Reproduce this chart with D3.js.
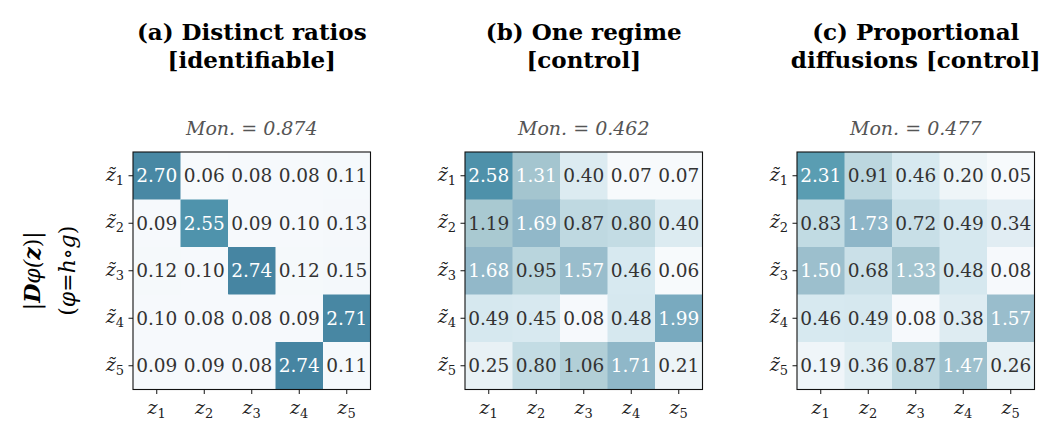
<!DOCTYPE html>
<html>
<head>
<meta charset="utf-8">
<script src="https://cdn.jsdelivr.net/npm/d3@7"></script>
<style>
  body { margin: 0; background: #fff; }
  text { font-family: "DejaVu Serif", serif; }
</style>
</head>
<body>
<div id="chart"></div>
<script>
// panel titles and scores
const titles = [
  ["(a) Distinct ratios", "[identifiable]"],
  ["(b) One regime", "[control]"],
  ["(c) Proportional", "diffusions [control]"]
];
const monScores = ["0.874", "0.462", "0.477"];
const cols = ["1", "2", "3", "4", "5"];
const rows = ["1", "2", "3", "4", "5"];

const matA = [
  [2.70, 0.06, 0.08, 0.08, 0.11],
  [0.09, 2.55, 0.09, 0.10, 0.13],
  [0.12, 0.10, 2.74, 0.12, 0.15],
  [0.10, 0.08, 0.08, 0.09, 2.71],
  [0.09, 0.09, 0.08, 2.74, 0.11]
];
const matB = [
  [2.58, 1.31, 0.40, 0.07, 0.07],
  [1.19, 1.69, 0.87, 0.80, 0.40],
  [1.68, 0.95, 1.57, 0.46, 0.06],
  [0.49, 0.45, 0.08, 0.48, 1.99],
  [0.25, 0.80, 1.06, 1.71, 0.21]
];
const matC = [
  [2.31, 0.91, 0.46, 0.20, 0.05],
  [0.83, 1.73, 0.72, 0.49, 0.34],
  [1.50, 0.68, 1.33, 0.48, 0.08],
  [0.46, 0.49, 0.08, 0.38, 1.57],
  [0.19, 0.36, 0.87, 1.47, 0.26]
];
const mats = [matA, matB, matC];

const W = 1064, H = 443;
const panelLeft = [133, 465, 797];
const plotTop = 152, size = 237.5;

const svg = d3.select("#chart").append("svg")
  .attr("width", W).attr("height", H);

const color = d3.scaleLinear()
  .domain([0, 0.15, 0.25, 0.45, 0.85, 1.2, 1.6, 2.0, 2.3, 2.55, 2.75])
  .range(["#f9fbfd", "#f4f8fb", "#e8f1f5", "#d8e9f0", "#c0dae2", "#a8c8d0", "#98bccc", "#78aabf", "#5a9db2", "#4f93ac", "#4684a1"])
  .clamp(true);

const x = d3.scaleBand().domain(cols).range([0, size]);
const y = d3.scaleBand().domain(rows).range([0, size]);

mats.forEach(function(m, p) {
  const cx = panelLeft[p] + size / 2;
  const t = svg.append("g");
  t.append("text").attr("x", cx).attr("y", 40)
    .attr("text-anchor", "middle").attr("font-weight", "bold").attr("font-size", 23)
    .text(titles[p][0]);
  t.append("text").attr("x", cx).attr("y", 68)
    .attr("text-anchor", "middle").attr("font-weight", "bold").attr("font-size", 23)
    .text(titles[p][1]);
  t.append("text").attr("x", cx).attr("y", 135)
    .attr("text-anchor", "middle").attr("font-style", "italic").attr("font-size", 19)
    .attr("fill", "#555").text("Mon. = " + monScores[p]);

  const g = svg.append("g").attr("transform", "translate(" + panelLeft[p] + "," + plotTop + ")");

  const cells = [];
  m.forEach(function(r, i) { r.forEach(function(v, j) { cells.push({i: i, j: j, v: v}); }); });

  g.selectAll("rect.cell").data(cells).enter().append("rect")
    .attr("class", "cell")
    .attr("x", d => x(cols[d.j])).attr("y", d => y(rows[d.i]))
    .attr("width", x.bandwidth() + 0.5).attr("height", y.bandwidth() + 0.5)
    .attr("fill", d => color(d.v));

  g.selectAll("text.val").data(cells).enter().append("text")
    .attr("class", "val")
    .attr("x", d => x(cols[d.j]) + x.bandwidth() / 2)
    .attr("y", d => y(rows[d.i]) + y.bandwidth() / 2)
    .attr("dy", "0.36em")
    .attr("text-anchor", "middle").attr("font-size", 18.5)
    .attr("fill", d => d.v > 1.25 ? "#fff" : "#333")
    .text(d => d.v.toFixed(2));

  g.append("rect").attr("width", size).attr("height", size)
    .attr("fill", "none").attr("stroke", "#111").attr("stroke-width", 1.1);

  // y ticks
  const yt = g.selectAll("g.yt").data(rows).enter().append("g")
    .attr("transform", d => "translate(0," + (y(d) + y.bandwidth() / 2) + ")");
  yt.append("line").attr("x1", -4.5).attr("x2", 0).attr("stroke", "#111");
  const ytx = yt.append("text").attr("x", -9).attr("y", 5)
    .attr("text-anchor", "end").attr("font-family", "'Liberation Serif', serif")
    .attr("font-style", "italic").attr("font-size", 19).attr("fill", "#222");
  ytx.append("tspan").text("z\u0303");
  ytx.append("tspan").attr("font-style", "normal").attr("font-size", 13).attr("dy", 4).text(d => d);

  // x ticks
  const xt = g.selectAll("g.xt").data(cols).enter().append("g")
    .attr("transform", d => "translate(" + (x(d) + x.bandwidth() / 2) + "," + size + ")");
  xt.append("line").attr("y1", 0).attr("y2", 4.5).attr("stroke", "#111");
  const xtx = xt.append("text").attr("x", 0).attr("y", 24)
    .attr("text-anchor", "middle").attr("font-family", "'Liberation Serif', serif")
    .attr("font-style", "italic").attr("font-size", 19).attr("fill", "#222");
  xtx.append("tspan").text("z");
  xtx.append("tspan").attr("font-style", "normal").attr("font-size", 13).attr("dy", 4).text(d => d);
});

// y-axis label
const yl = svg.append("g").attr("transform", "translate(40," + (plotTop + size / 2) + ") rotate(-90)");
const l1 = yl.append("text").attr("x", 0).attr("y", 0).attr("text-anchor", "middle")
  .attr("font-family", "'Liberation Serif', serif").attr("font-size", 22);
l1.append("tspan").text("|");
l1.append("tspan").attr("font-weight", "bold").attr("font-style", "italic").text("D");
l1.append("tspan").attr("font-style", "italic").text("\u03c6(");
l1.append("tspan").attr("font-weight", "bold").attr("font-style", "italic").text("z");
l1.append("tspan").text(")|");
const l2 = yl.append("text").attr("x", 0).attr("y", 35).attr("text-anchor", "middle")
  .attr("font-family", "'Liberation Serif', serif").attr("font-size", 22);
l2.append("tspan").text("(");
l2.append("tspan").attr("font-style", "italic").text("\u03c6");
l2.append("tspan").text("=");
l2.append("tspan").attr("font-style", "italic").text("h");
l2.append("tspan").text("\u2218");
l2.append("tspan").attr("font-style", "italic").text("g");
l2.append("tspan").text(")");
</script>
</body>
</html>
